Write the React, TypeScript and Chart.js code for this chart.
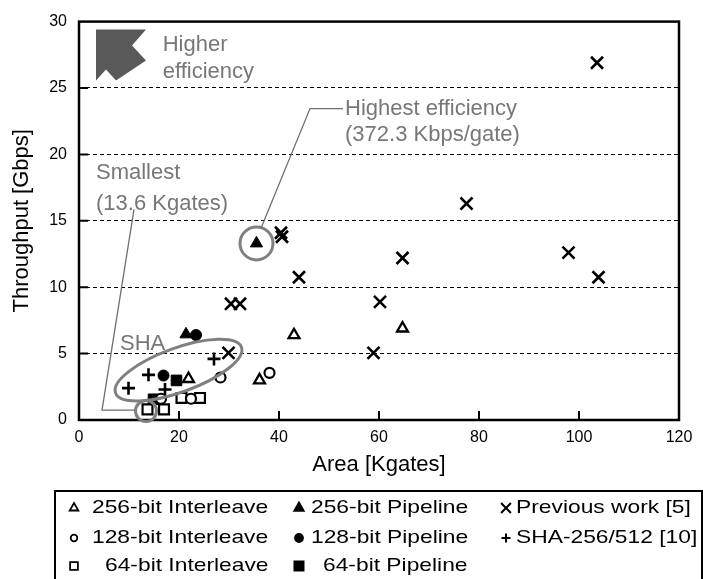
import React, { useEffect, useRef } from "react";
import { Chart, registerables } from "chart.js";

Chart.register(...registerables);

const FONT = "'Liberation Sans', Arial, Helvetica, sans-serif";
const GRAY_TEXT = "#777777";
const GRAY_LINE = "#808080";

// ---- data (Area [Kgates], Throughput [Gbps]) ----
const int256X = [21.9, 36.1, 43.0, 64.7];
const int256Y = [3.1, 3.0, 6.4, 6.9];
const pipe256X = [21.4, 35.5];
const pipe256Y = [6.45, 13.3];
const prevX = [103.6, 77.5, 97.9, 103.9, 64.7, 60.2, 58.9, 44.0, 40.4, 40.6, 30.4, 32.2, 29.9];
const prevY = [26.9, 16.3, 12.6, 10.75, 12.2, 8.9, 5.05, 10.75, 14.1, 13.8, 8.75, 8.75, 5.05];
const int128X = [16.4, 22.4, 28.3, 38.1];
const int128Y = [1.6, 1.6, 3.2, 3.55];
const pipe128X = [16.9, 23.4];
const pipe128Y = [3.35, 6.4];
const shaX = [9.9, 13.9, 17.2, 27.0];
const shaY = [2.4, 3.4, 2.3, 4.6];
const int64X = [13.7, 17.0, 20.5, 24.2];
const int64Y = [0.8, 0.8, 1.66, 1.66];
const pipe64X = [14.9, 19.5];
const pipe64Y = [1.56, 2.98];

const seriesLabels = [
  "256-bit Interleave",
  "256-bit Pipeline",
  "Previous work [5]",
  "128-bit Interleave",
  "128-bit Pipeline",
  "SHA-256/512 [10]",
  "64-bit Interleave",
  "64-bit Pipeline",
];

const X_MIN = 0, X_MAX = 120, X_STEP = 20;
const Y_MIN = 0, Y_MAX = 30, Y_STEP = 5;
const xTitle = "Area [Kgates]";
const yTitle = "Throughput [Gbps]";

const pts = (xs: number[], ys: number[]) => xs.map((x, i) => ({ x, y: ys[i] }));

type Style = "triangle" | "circle" | "rect" | "cross" | "crossRot";

function drawMarker(ctx: CanvasRenderingContext2D, style: Style, x: number, y: number, r: number, filled: boolean, lw: number) {
  ctx.save();
  ctx.lineWidth = lw;
  ctx.strokeStyle = "#000";
  ctx.fillStyle = filled ? "#000" : "#fff";
  ctx.beginPath();
  if (style === "triangle") {
    for (let k = 0; k < 3; k++) {
      const a = (k * 2 * Math.PI) / 3;
      const X = x + Math.sin(a) * r, Y = y - Math.cos(a) * r;
      k ? ctx.lineTo(X, Y) : ctx.moveTo(X, Y);
    }
    ctx.closePath();
    ctx.fill();
    ctx.stroke();
  } else if (style === "circle") {
    ctx.arc(x, y, r, 0, Math.PI * 2);
    ctx.fill();
    ctx.stroke();
  } else if (style === "rect") {
    const s = r * Math.SQRT1_2;
    ctx.rect(x - s, y - s, 2 * s, 2 * s);
    ctx.fill();
    ctx.stroke();
  } else if (style === "cross") {
    ctx.moveTo(x - r, y); ctx.lineTo(x + r, y);
    ctx.moveTo(x, y - r); ctx.lineTo(x, y + r);
    ctx.stroke();
  } else {
    const d = r * Math.SQRT1_2;
    ctx.moveTo(x - d, y - d); ctx.lineTo(x + d, y + d);
    ctx.moveTo(x - d, y + d); ctx.lineTo(x + d, y - d);
    ctx.stroke();
  }
  ctx.restore();
}

const legendStyles: { style: Style; filled: boolean; r: number }[] = [
  { style: "triangle", filled: false, r: 5 },
  { style: "triangle", filled: true, r: 5.5 },
  { style: "crossRot", filled: false, r: 7 },
  { style: "circle", filled: false, r: 3.3 },
  { style: "circle", filled: true, r: 4 },
  { style: "cross", filled: false, r: 4.5 },
  { style: "rect", filled: false, r: 5.5 },
  { style: "rect", filled: true, r: 6.5 },
];

const frameAndTicksPlugin = {
  id: "frameAndTicks",
  beforeDatasetsDraw(chart: any) {
    const { ctx, chartArea: ca, scales } = chart;
    const xs = scales.x, ys = scales.y;
    ctx.save();
    ctx.strokeStyle = "#000";
    ctx.lineWidth = 2;
    ctx.beginPath();
    xs.ticks.forEach((t: any) => {
      if (t.value <= X_MIN || t.value >= X_MAX) return;
      const p = xs.getPixelForValue(t.value);
      ctx.moveTo(p, ca.bottom);
      ctx.lineTo(p, ca.bottom - 9);
    });
    ys.ticks.forEach((t: any) => {
      if (t.value <= Y_MIN || t.value >= Y_MAX) return;
      const p = ys.getPixelForValue(t.value);
      ctx.moveTo(ca.left, p);
      ctx.lineTo(ca.left + 9, p);
    });
    ctx.stroke();
    ctx.lineWidth = 2.5;
    ctx.strokeRect(ca.left, ca.top, ca.right - ca.left, ca.bottom - ca.top);
    ctx.restore();
  },
};

const annotationPlugin = {
  id: "annotations",
  afterDatasetsDraw(chart: any) {
    const { ctx, chartArea: ca, scales } = chart;
    const px = (v: number) => scales.x.getPixelForValue(v);
    const py = (v: number) => scales.y.getPixelForValue(v);
    ctx.save();

    // "higher efficiency" arrow icon
    const arrow = [[17, 8], [67, 8], [53, 24], [67, 39], [37, 59], [27, 48], [17, 59]];
    ctx.fillStyle = "#595959";
    ctx.beginPath();
    arrow.forEach(([dx, dy], i) => (i ? ctx.lineTo(ca.left + dx, ca.top + dy) : ctx.moveTo(ca.left + dx, ca.top + dy)));
    ctx.closePath();
    ctx.fill();

    // SHA ellipse
    ctx.strokeStyle = GRAY_LINE;
    ctx.lineWidth = 3;
    ctx.beginPath();
    ctx.ellipse(px(19.9), py(3.76), 67, 22, (-20 * Math.PI) / 180, 0, Math.PI * 2);
    ctx.stroke();

    // circles
    ctx.beginPath();
    ctx.arc(px(13.4), py(0.67), 10.5, 0, Math.PI * 2);
    ctx.stroke();
    ctx.beginPath();
    ctx.arc(px(35.5), py(13.3), 16.5, 0, Math.PI * 2);
    ctx.stroke();

    // leader lines
    ctx.lineWidth = 1.3;
    ctx.strokeStyle = "#6f6f6f";
    ctx.beginPath();
    ctx.moveTo(px(11.0), py(15.86));
    ctx.lineTo(px(4.6), py(0.74));
    ctx.lineTo(px(11.2), py(0.74));
    ctx.stroke();
    ctx.beginPath();
    ctx.moveTo(px(52.8), py(23.45));
    ctx.lineTo(px(46.2), py(23.45));
    ctx.lineTo(px(36.4), py(14.44));
    ctx.stroke();

    // texts
    ctx.fillStyle = GRAY_TEXT;
    ctx.font = `22px ${FONT}`;
    ctx.textAlign = "left";
    ctx.textBaseline = "alphabetic";
    ctx.fillText("Higher", px(16.74), py(27.82));
    ctx.fillText("efficiency", px(16.74), py(25.76));
    ctx.fillText("Highest efficiency", px(53.2), py(22.93));
    ctx.fillText("(372.3 Kbps/gate)", px(53.2), py(20.99));
    ctx.fillText("Smallest", px(3.4), py(18.11));
    ctx.fillText("(13.6 Kgates)", px(3.4), py(15.82));
    ctx.fillText("SHA", px(8.2), py(5.26));
    ctx.restore();
  },
};

const legendPlugin = {
  id: "customLegend",
  afterDraw(chart: any) {
    const { ctx } = chart;
    ctx.save();
    ctx.strokeStyle = "#000";
    ctx.lineWidth = 2;
    ctx.strokeRect(55, 491, 647, 120);
    const markerX = [74, 299, 506];
    const textX = [92, 311, 516];
    const rowY = [507, 537, 565];
    ctx.fillStyle = "#000";
    ctx.font = `19px ${FONT}`;
    ctx.textBaseline = "middle";
    ctx.textAlign = "left";
    seriesLabels.forEach((label, i) => {
      const col = i % 3, row = Math.floor(i / 3);
      const st = legendStyles[i];
      const lw = st.style === "cross" || st.style === "crossRot" ? 2 : 1.8;
      drawMarker(ctx, st.style, markerX[col], rowY[row] + 1, st.r, st.filled, lw);
      let tx = textX[col];
      if (row === 2) tx = col === 0 ? 105 : 323;
      ctx.save();
      ctx.translate(tx, rowY[row] + 1);
      ctx.scale(1.2, 1);
      ctx.fillStyle = "#000";
      ctx.fillText(label, 0, 0);
      ctx.restore();
    });
    ctx.restore();
  },
};

export default function App() {
  const ref = useRef<HTMLCanvasElement | null>(null);
  useEffect(() => {
    document.body.style.margin = "0";
    if (!ref.current) return;
    const mk = (i: number, data: any[], style: Style, filled: boolean, r: number, bw: number) => ({
      label: seriesLabels[i],
      data,
      pointStyle: style,
      pointRadius: r,
      pointBorderWidth: bw,
      pointBorderColor: "#000",
      pointBackgroundColor: filled ? "#000" : "#fff",
      borderColor: "#000",
      backgroundColor: filled ? "#000" : "#fff",
      showLine: false,
    });
    const chart = new Chart(ref.current, {
      type: "scatter",
      data: {
        datasets: [
          mk(0, pts(int256X, int256Y), "triangle", false, 6.3, 2.3),
          mk(1, pts(pipe256X, pipe256Y), "triangle", true, 7, 1),
          mk(2, pts(prevX, prevY), "crossRot", false, 8.5, 2.6),
          mk(3, pts(int128X, int128Y), "circle", false, 5, 2.2),
          mk(4, pts(pipe128X, pipe128Y), "circle", true, 5.5, 1),
          mk(5, pts(shaX, shaY), "cross", false, 6.5, 2.6),
          mk(6, pts(int64X, int64Y), "rect", false, 7, 2.2),
          mk(7, pts(pipe64X, pipe64Y), "rect", true, 7.5, 1),
        ] as any,
      },
      options: {
        responsive: false,
        animation: false,
        devicePixelRatio: 1,
        layout: { padding: { left: 0, top: 17, right: 24, bottom: 99 } },
        plugins: { legend: { display: false }, tooltip: { enabled: false } },
        scales: {
          x: {
            type: "linear",
            min: X_MIN,
            max: X_MAX,
            ticks: { stepSize: X_STEP, color: "#000", font: { family: FONT, size: 16 }, padding: 8 },
            grid: { display: false, drawTicks: false },
            border: { display: false },
            title: { display: true, text: xTitle, color: "#000", font: { family: FONT, size: 22 }, padding: { top: 0, bottom: 2 } },
            afterFit: (s: any) => { s.height = 60; },
          },
          y: {
            type: "linear",
            min: Y_MIN,
            max: Y_MAX,
            ticks: { stepSize: Y_STEP, color: "#000", font: { family: FONT, size: 16 }, padding: 12 },
            grid: { display: true, drawTicks: false, color: "#000", lineWidth: 1 },
            border: { display: false, dash: [4, 3] },
            title: { display: true, text: yTitle, color: "#000", font: { family: FONT, size: 22 }, padding: { top: 9, bottom: 0 } },
            afterFit: (s: any) => { s.width = 79; },
          },
        },
      } as any,
      plugins: [frameAndTicksPlugin, annotationPlugin, legendPlugin],
    });
    return () => chart.destroy();
  }, []);
  return (
    <div style={{ position: "absolute", left: 0, top: 0, width: 703, height: 579, background: "#fff" }}>
      <canvas ref={ref} width={703} height={579} />
    </div>
  );
}
